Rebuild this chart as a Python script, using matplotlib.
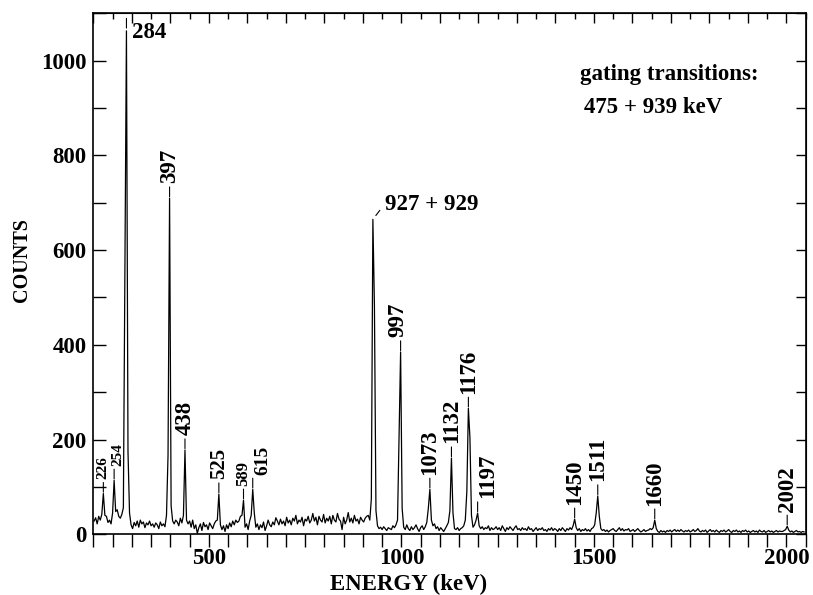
import numpy as np
import matplotlib
matplotlib.use('Agg')
import matplotlib.pyplot as plt
from matplotlib.ticker import MultipleLocator, FixedLocator, NullFormatter

plt.rcParams['font.family'] = ['Liberation Serif', 'DejaVu Serif']
plt.rcParams['font.weight'] = 'bold'

# gamma spectrum, 4 keV bins (bin centres 202 ... 2046 keV)
energy = np.arange(202, 2050, 4)
counts = np.array([
    28, 35, 22, 38, 30, 42, 86, 40, 38, 25, 30, 22, 45, 114, 48, 52, 38, 34, 42, 56,
    560, 1063, 175, 45, 20, 12, 25, 18, 28, 15, 30, 22, 26, 14, 24, 20, 28, 18, 22, 15,
    24, 20, 12, 26, 18, 22, 16, 40, 167, 710, 60, 28, 22, 30, 26, 18, 34, 24, 40, 178,
    30, 22, 28, 15, 30, 12, 20, 2, 14, 22, 8, 25, 16, 20, 10, 24, 18, 12, 22, 28,
    30, 85, 20, 10, 18, 6, 20, 12, 24, 16, 28, 20, 30, 25, 28, 38, 40, 72, 15, 22,
    10, 28, 40, 95, 45, 15, 22, 10, 20, 14, 26, 8, 18, 30, 20, 16, 26, 20, 35, 28,
    20, 32, 22, 28, 18, 36, 24, 30, 20, 34, 28, 40, 22, 30, 26, 36, 18, 32, 28, 38,
    24, 30, 44, 28, 36, 20, 38, 30, 26, 42, 24, 34, 28, 38, 22, 40, 30, 26, 44, 32,
    28, 10, 36, 22, 30, 46, 26, 34, 24, 40, 28, 32, 22, 36, 30, 26, 34, 38, 40, 30,
    75, 665, 483, 50, 18, 12, 15, 10, 16, 12, 8, 14, 12, 10, 18, 14, 20, 30, 205, 385,
    55, 15, 10, 20, 12, 8, 16, 10, 14, 20, 12, 6, 14, 18, 10, 16, 25, 55, 95, 30,
    18, 22, 12, 16, 8, 14, 10, 6, 12, 18, 25, 50, 161, 45, 12, 10, 14, 8, 12, 14,
    18, 30, 90, 266, 205, 40, 15, 20, 30, 45, 18, 12, 16, 10, 14, 12, 18, 8, 14, 10,
    12, 16, 10, 14, 8, 18, 12, 6, 14, 10, 16, 12, 8, 14, 18, 10, 12, 8, 14, 10,
    12, 8, 16, 10, 12, 6, 10, 14, 8, 12, 10, 14, 8, 10, 6, 12, 9, 14, 8, 12,
    10, 6, 12, 8, 14, 10, 6, 12, 9, 14, 10, 18, 32, 14, 8, 12, 6, 10, 8, 12,
    7, 10, 6, 12, 14, 20, 45, 81, 38, 12, 8, 10, 6, 9, 5, 8, 10, 12, 8, 6,
    10, 14, 8, 12, 7, 10, 9, 12, 6, 8, 10, 6, 9, 12, 8, 5, 7, 10, 6, 8,
    9, 12, 10, 14, 30, 12, 6, 4, 8, 5, 7, 4, 8, 6, 9, 5, 8, 10, 6, 9,
    6, 10, 7, 5, 8, 6, 9, 5, 7, 10, 6, 8, 12, 7, 5, 8, 6, 9, 4, 7,
    10, 6, 8, 5, 9, 6, 4, 8, 6, 9, 5, 7, 10, 6, 4, 8, 6, 9, 5, 7,
    4, 8, 6, 9, 5, 7, 4, 6, 8, 5, 7, 4, 9, 6, 5, 8, 4, 6, 8, 5,
    7, 4, 6, 8, 5, 7, 6, 6, 8, 10, 17, 9, 5, 7, 4, 6, 8, 5, 6, 4,
    6, 5,
])

peak_labels = ['226', '254', '284', '397', '438', '525', '589', '615', '927 + 929',
               '997', '1073', '1132', '1176', '1197', '1450', '1511', '1660', '2002']
peak_energies = [226, 254, 284, 397, 438, 525, 589, 615, 927,
                 997, 1073, 1132, 1176, 1197, 1450, 1511, 1660, 2002]

# label look: font size and sideways shift (points)
label_size = {'226': 11, '254': 11, '525': 15, '589': 12, '615': 14}
label_dx = {'254': 3, '615': 7, '997': -2, '1197': 7}

fig = plt.figure(figsize=(8.13, 5.95), dpi=100)
ax = fig.add_axes([0.1148, 0.102, 0.8762, 0.8756])

ax.plot(energy, counts, color='black', lw=0.9)
ax.set_xlim(200, 2050)
ax.set_ylim(0, 1100)

ax.xaxis.set_major_locator(FixedLocator([500, 1000, 1500, 2000]))
ax.xaxis.set_minor_locator(MultipleLocator(50))
ax.tick_params(axis='x', which='both', direction='out', length=9, width=1,
               pad=1, labelsize=16.5)
ax.yaxis.set_major_locator(MultipleLocator(200))
ax.yaxis.set_minor_locator(MultipleLocator(100))
ax.tick_params(axis='y', which='both', direction='in', length=9, width=1,
               pad=5, labelsize=16.5)
for s in ax.spines.values():
    s.set_linewidth(1.2)

# top and right ticks point inwards
secx = ax.secondary_xaxis('top')
secx.xaxis.set_major_locator(MultipleLocator(100))
secx.xaxis.set_minor_locator(MultipleLocator(50))
secx.xaxis.set_major_formatter(NullFormatter())
secx.tick_params(which='major', direction='in', length=7, width=1)
secx.tick_params(which='minor', direction='in', length=4, width=1)
secy = ax.secondary_yaxis('right')
secy.yaxis.set_major_locator(MultipleLocator(100))
secy.yaxis.set_major_formatter(NullFormatter())
secy.tick_params(which='major', direction='in', length=7, width=1)

ax.text(0.443, -0.097, 'ENERGY (keV)', transform=ax.transAxes,
        ha='center', va='center', fontsize=16.5)
ax.text(-0.100, 0.5265, 'COUNTS', transform=ax.transAxes, rotation=90,
        ha='center', va='center', fontsize=14.5)

ax.text(0.683, 0.872, 'gating transitions:', transform=ax.transAxes,
        ha='left', va='baseline', fontsize=16.5)
ax.text(0.689, 0.8086, '475 + 939 keV', transform=ax.transAxes,
        ha='left', va='baseline', fontsize=16.5)

# peak labels with short leader dashes
for lab, e in zip(peak_labels, peak_energies):
    near = np.abs(energy - e) <= 6
    i = np.flatnonzero(near)[np.argmax(counts[near])]
    xp, yp = energy[i], counts[i]
    size = label_size.get(lab, 16.5)
    if lab == '284':
        ax.annotate('', xy=(xp, yp), xytext=(0, 9), textcoords='offset points',
                    arrowprops=dict(arrowstyle='-', lw=0.8, shrinkA=0, shrinkB=2))
        ax.annotate(lab, xy=(xp, yp), xytext=(4, -5), textcoords='offset points',
                    ha='left', va='baseline', fontsize=size)
    elif lab.startswith('927'):
        ax.annotate('', xy=(xp, yp), xytext=(5, 6.5), textcoords='offset points',
                    arrowprops=dict(arrowstyle='-', lw=0.8, shrinkA=0, shrinkB=3.5))
        ax.annotate(lab, xy=(xp, yp), xytext=(8.5, 6.5), textcoords='offset points',
                    ha='left', va='baseline', fontsize=size)
    else:
        ax.annotate('', xy=(xp, yp), xytext=(0, 8), textcoords='offset points',
                    arrowprops=dict(arrowstyle='-', lw=0.8, shrinkA=0, shrinkB=1))
        ax.annotate(lab, xy=(xp, yp), xytext=(label_dx.get(lab, 0), 10.5),
                    textcoords='offset points', rotation=90,
                    ha='center', va='bottom', fontsize=size)

fig.savefig('out.png', dpi=100)
